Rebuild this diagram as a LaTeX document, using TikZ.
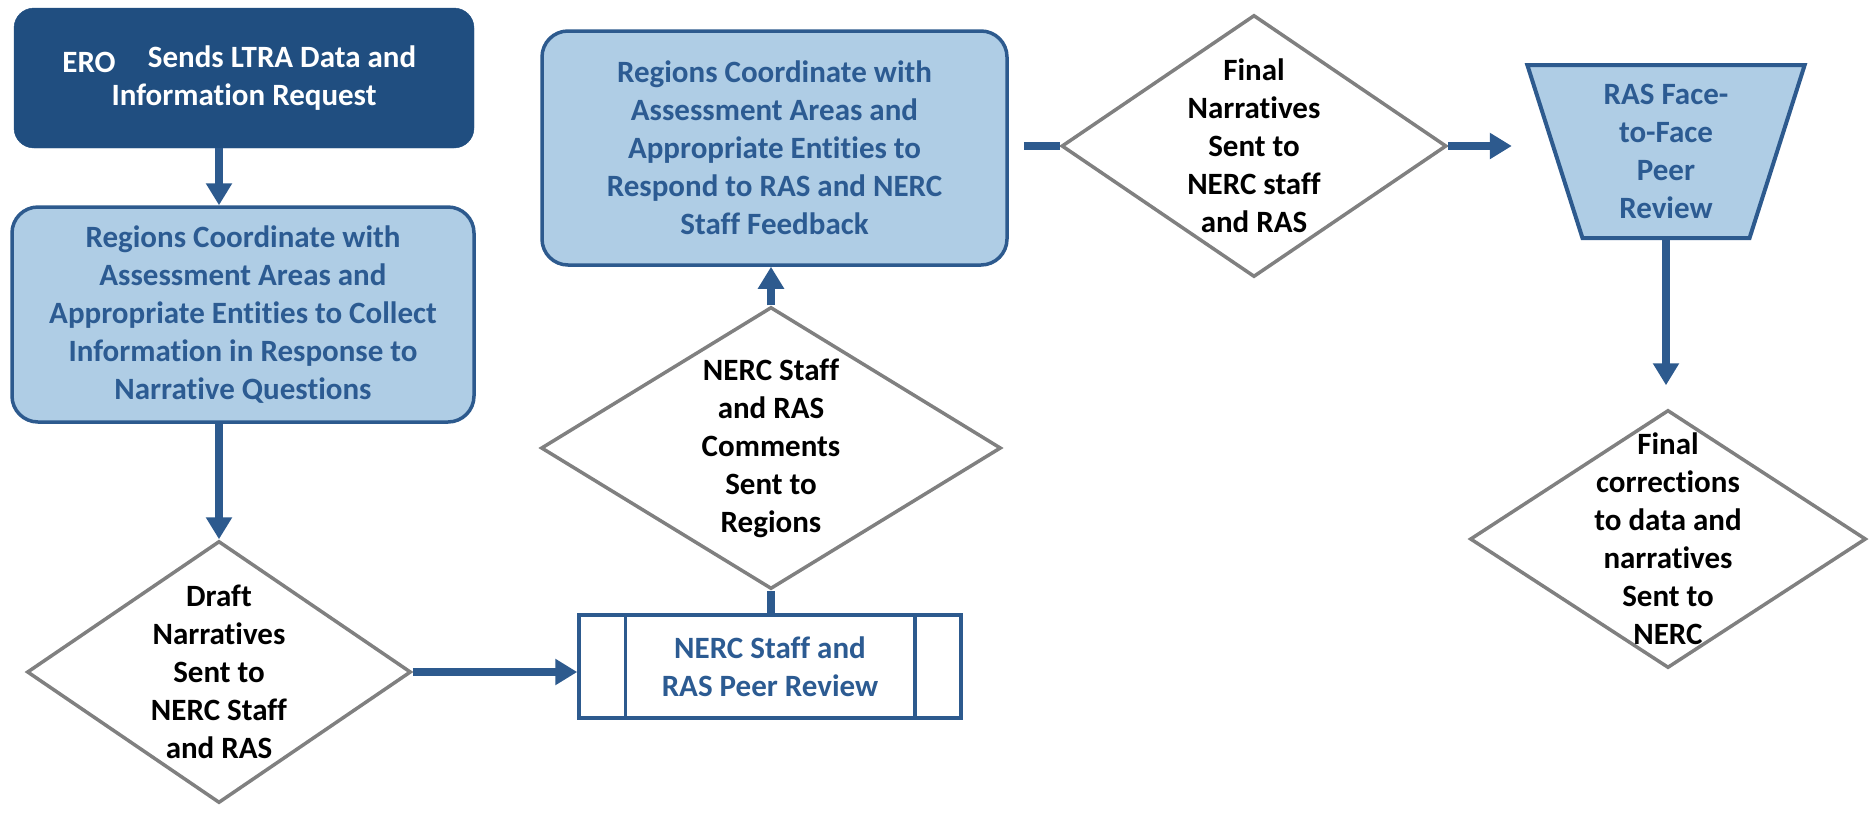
\documentclass[tikz,border=0pt]{standalone}
\usepackage{fontspec}
\setmainfont{Carlito}[Ligatures=NoCommon]
\usetikzlibrary{calc,arrows.meta,shapes.geometric}

\definecolor{nercdark}{HTML}{204E80}
\definecolor{nercline}{HTML}{2D5A8E}
\definecolor{nerclight}{HTML}{AFCDE5}
\definecolor{nerctext}{HTML}{2C5B92}
\definecolor{nercgrey}{HTML}{808080}

\tikzset{
  every node/.style={font=\fontsize{31pt}{38pt}\selectfont\bfseries},
  darkbox/.style={rectangle,rounded corners=20pt,fill=nercdark,draw=nercdark,text=white,align=center,inner sep=0pt},
  lightbox/.style={rectangle,rounded corners=26pt,fill=nerclight,draw=nercline,line width=3.5pt,text=nerctext,align=center,inner sep=0pt},
  decision/.style={diamond,draw=nercgrey,line width=3.5pt,fill=white,inner sep=0pt},
  dtext/.style={align=center,text=black},
  flow/.style={draw=nercline,line width=8.5pt,-{Triangle[width=25pt,length=22pt]}},
  link/.style={draw=nercline,line width=8.5pt},
}

\begin{document}
\begin{tikzpicture}[x=1pt,y=-1pt]
    \useasboundingbox (0,0) rectangle (1874,815);

    % left column
    \node[darkbox,minimum width=460pt,minimum height=140pt] (ero) at (244,78)
        {\hspace*{76pt}Sends LTRA Data and\\Information Request};
    \node[anchor=base,text=white] (eroname) at (89,72) {ERO};
    \node[lightbox,minimum width=462pt,minimum height=215pt] (collect) at (243,314.5)
        {Regions Coordinate with\\Assessment Areas and\\Appropriate Entities to Collect\\Information in Response to\\Narrative Questions};
    \node[decision,minimum width=384pt,minimum height=262pt] (d1) at (219,672) {};
    \node[dtext] (d1text) at (d1) {Draft\\Narratives\\Sent to\\NERC Staff\\and RAS};

    % middle column
    \node[draw=nercline,line width=3.5pt,fill=white,minimum width=382pt,minimum height=103pt,
          text=nerctext,align=center,inner sep=0pt] (review) at (770,666.5)
        {NERC Staff and\\RAS Peer Review};
    \draw[nercline,line width=3.5pt] ($(review.north west)+(48,0)$) -- ($(review.south west)+(48,0)$);
    \draw[nercline,line width=3.5pt] ($(review.north east)+(-48,0)$) -- ($(review.south east)+(-48,0)$);
    \node[decision,minimum width=460pt,minimum height=282pt] (d2) at (771,448) {};
    \node[dtext] (d2text) at (d2) {NERC Staff\\and RAS\\Comments\\Sent to\\Regions};
    \node[lightbox,minimum width=465pt,minimum height=234pt] (respond) at (774.5,148)
        {Regions Coordinate with\\Assessment Areas and\\Appropriate Entities to\\Respond to RAS and NERC\\Staff Feedback};

    % right column
    \node[decision,minimum width=385pt,minimum height=262pt] (d3) at (1254,146) {};
    \node[dtext] (d3text) at (d3) {Final\\Narratives\\Sent to\\NERC staff\\and RAS};
    \node[trapezium,trapezium left angle=73,trapezium right angle=73,shape border rotate=180,
          trapezium stretches=true,minimum width=278pt,minimum height=173pt,
          fill=nerclight,draw=nercline,line width=4pt,text=nerctext,align=center,inner sep=0pt] (ftf) at (1666,151.5)
        {RAS Face-\\to-Face\\Peer\\Review};
    \node[decision,minimum width=396pt,minimum height=258pt] (d4) at (1668,539) {};
    \node[dtext] (d4text) at (d4) {Final\\corrections\\to data and\\narratives\\Sent to\\NERC};

    % connectors
    \draw[flow] (d1.north |- ero.south) -- (d1.north |- collect.north);
    \draw[flow] (d1.north |- collect.south) -- (d1.north);
    \draw[flow] (d1.east) -- (d1.east -| review.west);
    \draw[link] (d2.south |- review.north) -- (d2.south);
    \draw[flow] (d2.north) -- (d2.north |- respond.south);
    \draw[link,shorten <=15pt] (respond.east |- d3.west) -- (d3.west);
    \draw[flow,shorten >=41pt] (d3.east) -- (d3.east -| ftf.west);
    \draw[flow,shorten >=23pt] (ftf.south) -- (ftf.south |- d4.north);
\end{tikzpicture}
\end{document}
